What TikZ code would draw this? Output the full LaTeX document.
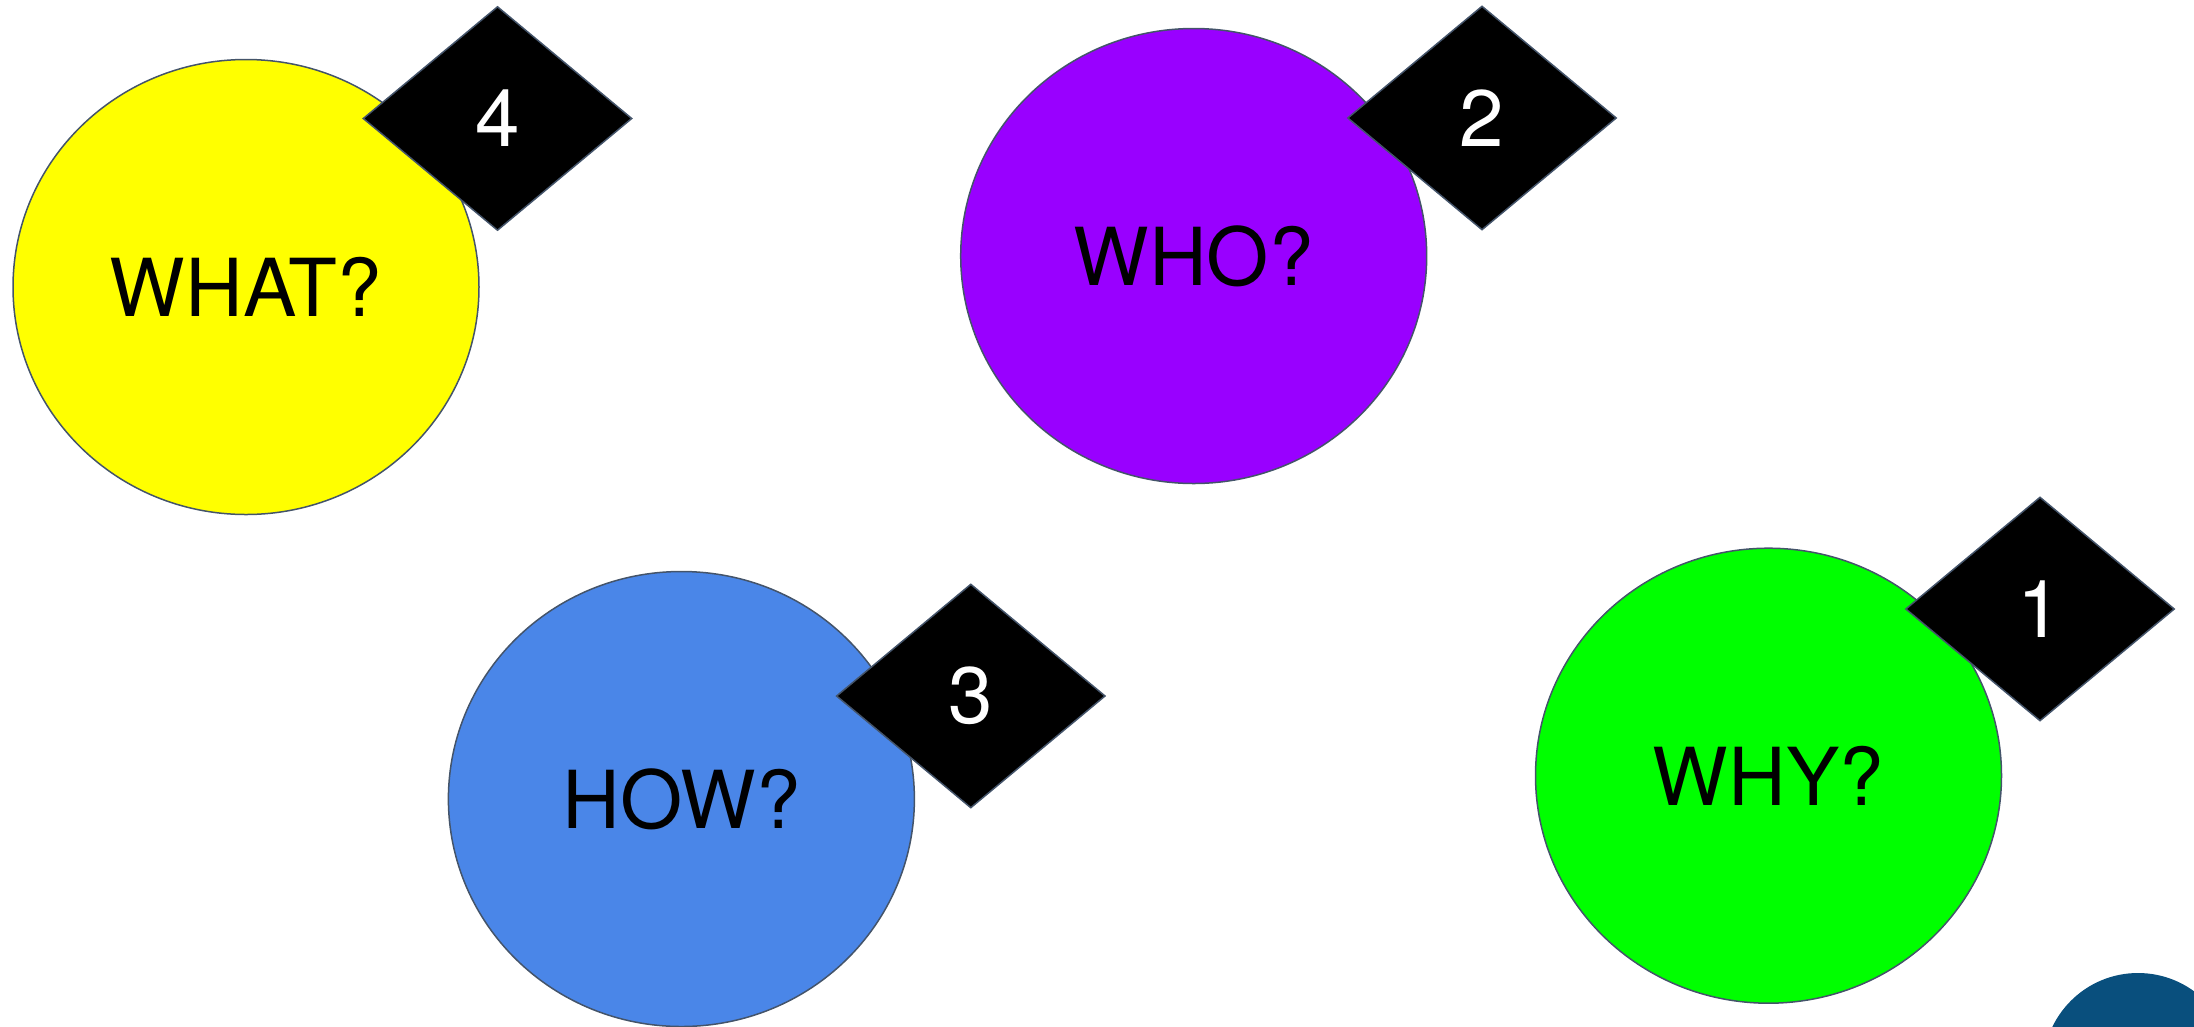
\documentclass[tikz,border=0pt]{standalone}
\usepackage{fontspec}
\setmainfont{TeX Gyre Heros}
\usetikzlibrary{shapes.geometric}
\definecolor{edgeclr}{RGB}{68,84,106}
\definecolor{yel}{RGB}{255,255,0}
\definecolor{pur}{RGB}{153,0,255}
\definecolor{blu}{RGB}{74,134,232}
\definecolor{grn}{RGB}{0,255,0}
\definecolor{navy}{RGB}{9,79,125}
\tikzset{
  bubble/.style={ellipse, draw=edgeclr, line width=1.5pt, minimum width=466pt, minimum height=455pt, inner sep=0pt, font=\fontsize{80}{96}\selectfont, text=black},
  badge/.style={diamond, draw=edgeclr, line width=1.5pt, fill=black, minimum width=269pt, minimum height=224pt, inner sep=0pt, font=\fontsize{80}{96}\selectfont, text=white},
}
\begin{document}
\begin{tikzpicture}[x=1pt,y=-1pt]
\useasboundingbox (0,0) rectangle (2194,1026);
\node[bubble, fill=yel] (what) at (246,287) {WHAT?};
\node[badge] (d4) at (497.5,118.5) {4};
\node[bubble, fill=pur] (who) at (1193.7,256) {WHO?};
\node[badge] (d2) at (1482,118) {2};
\node[bubble, fill=blu] (how) at (681.4,799) {HOW?};
\node[badge] (d3) at (970.8,696) {3};
\node[bubble, fill=grn] (why) at (1768.5,775.7) {WHY?};
\node[badge] (d1) at (2040,609) {1};
\node[circle, fill=navy, minimum size=190pt, inner sep=0pt] (dot) at (2138,1068) {};
\end{tikzpicture}
\end{document}
